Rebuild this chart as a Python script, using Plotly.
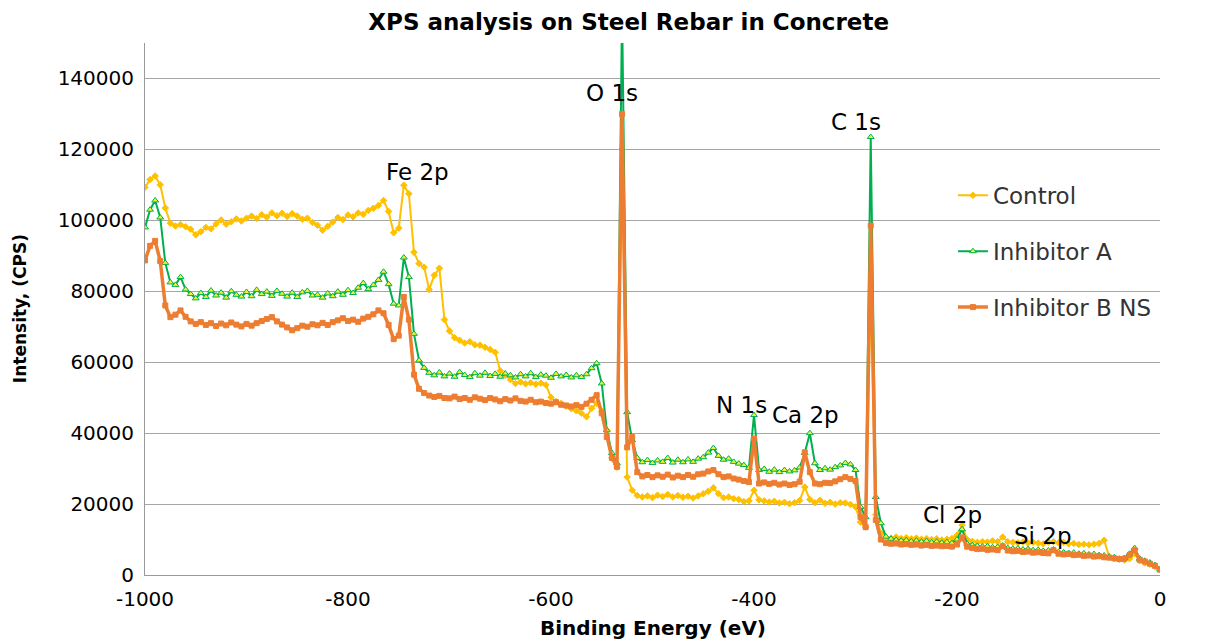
"""
XPS survey spectra of steel rebar in concrete: control vs. two inhibitors.

Values are read off the original chart on a 5 eV grid and kept in kCPS.
"""

import plotly.graph_objects as go

# --- data -------------------------------------------------------------------
binding_energy = list(range(-1000, 1, 5))  # eV, 5 eV steps

# intensities in kCPS, one row per 50 eV
control_kcps = [
    109.3, 111.5, 112.5, 110.0, 103.5, 99.2, 98.4, 98.8, 98.2, 97.5,
    95.9, 96.8, 98.0, 97.6, 99.0, 100.1, 98.9, 99.6, 100.4, 99.8,
    100.6, 101.2, 100.5, 101.6, 100.9, 102.1, 101.3, 102.0, 101.1, 101.9,
    101.2, 100.3, 100.6, 99.4, 98.6, 97.2, 98.3, 99.5, 100.8, 100.2,
    101.5, 101.0, 102.1, 101.7, 102.8, 103.4, 104.2, 105.6, 102.5, 96.5,
    97.8, 109.9, 107.5, 91.0, 87.8, 86.8, 80.5, 84.5, 86.5, 72.0,
    68.8, 66.9, 66.2, 65.4, 65.8, 64.9, 64.8, 64.2, 63.6, 62.8,
    57.6, 56.3, 55.1, 54.0, 54.4, 53.9, 54.2, 53.8, 54.1, 53.6,
    50.1, 48.9, 48.4, 47.6, 46.9, 46.3, 45.6, 44.6, 47.0, 48.4,
    46.2, 40.8, 33.0, 30.4, 120.0, 27.6, 23.9, 22.4, 22.0, 22.3,
    21.8, 22.5, 22.1, 22.7, 22.0, 22.4, 21.9, 22.2, 21.7, 22.3,
    22.9, 23.6, 24.6, 22.9, 21.8, 22.0, 21.5, 21.3, 20.7, 20.9,
    23.9, 21.2, 20.9, 20.6, 20.8, 20.3, 20.5, 20.1, 20.4, 21.0,
    24.8, 21.3, 20.4, 21.1, 20.2, 20.5, 20.0, 20.4, 20.3, 19.9,
    19.2, 14.9, 13.5, 80.0, 17.0, 11.8, 10.6, 10.4, 10.7, 10.3,
    10.5, 10.2, 10.4, 10.1, 10.3, 10.0, 10.2, 9.9, 10.1, 10.3,
    11.2, 14.1, 10.0, 9.5, 9.2, 9.4, 9.3, 9.6, 9.4, 10.7,
    9.4, 9.2, 9.1, 9.3, 9.0, 9.2, 9.0, 8.8, 9.3, 9.4,
    9.1, 9.2, 8.8, 8.9, 8.6, 8.7, 8.5, 8.7, 8.9, 9.8,
    5.0, 4.6, 4.4, 4.2, 4.6, 6.0, 4.0, 3.4, 3.0, 2.4,
    1.6,
]

inhibitor_a_kcps = [
    98.0, 103.0, 105.6, 100.8, 88.0, 82.5, 81.8, 84.0, 80.5, 79.2,
    78.0, 79.5, 78.4, 80.2, 78.8, 79.6, 78.2, 80.0, 79.0, 78.5,
    79.8, 78.6, 80.4, 79.2, 79.9, 78.7, 80.1, 79.3, 78.5, 79.6,
    78.4, 79.7, 80.1, 78.8, 79.0, 78.2, 79.4, 78.6, 79.9, 79.0,
    80.3, 79.5, 81.0, 82.3, 80.6, 81.8, 83.2, 85.5, 82.0, 76.5,
    76.0, 89.5, 84.0, 68.0, 60.5, 58.4, 57.0, 56.3, 57.1, 56.0,
    56.8, 55.9, 57.2, 56.4, 55.8, 56.9, 56.2, 57.0, 56.1, 56.7,
    55.9, 56.8, 56.3, 55.7, 56.6, 56.0, 56.9, 55.8, 56.5, 56.2,
    55.6, 56.7, 56.0, 56.4, 55.7, 56.3, 55.8, 56.6, 58.3, 59.7,
    54.0, 40.8, 34.4, 31.5, 160.0, 45.9, 38.0, 33.0, 31.8, 32.4,
    31.6, 32.3, 31.9, 33.0, 31.7, 32.5, 31.8, 32.6, 31.9, 32.8,
    33.2, 34.5, 35.8, 33.6, 32.5, 32.8, 31.9, 31.4, 31.0, 30.2,
    45.1, 29.6, 29.9, 29.1, 29.7, 29.0, 29.6, 29.2, 29.5, 30.3,
    34.4, 40.0, 31.5, 29.6, 30.1, 29.7, 30.4, 30.9, 31.6, 31.2,
    29.6, 19.2, 16.3, 123.5, 22.0, 14.6, 10.8, 10.2, 9.9, 9.7,
    9.8, 9.5, 9.7, 9.4, 9.6, 9.2, 9.4, 9.1, 9.3, 9.0,
    10.0, 12.9, 8.8, 8.4, 8.2, 8.0, 8.1, 7.8, 7.9, 8.3,
    7.6, 7.4, 7.5, 7.2, 7.3, 7.0, 7.1, 6.8, 6.9, 7.2,
    6.5, 6.4, 6.2, 6.3, 6.0, 6.1, 5.8, 5.9, 5.6, 5.5,
    5.2, 5.0, 4.6, 4.8, 6.0, 7.6, 4.6, 4.0, 3.5, 2.8,
    1.6,
]

inhibitor_b_kcps = [
    88.7, 92.8, 94.2, 88.5, 76.0, 72.7, 73.4, 74.6, 72.8, 71.5,
    70.8, 71.3, 70.5, 71.0, 70.2, 70.9, 70.4, 71.2, 70.6, 70.1,
    70.8, 70.3, 71.0, 71.6, 72.2, 72.7, 71.5, 70.6, 69.8, 69.0,
    69.6, 70.3, 70.0, 70.7, 70.4, 71.1, 70.5, 71.3, 71.8, 72.4,
    71.6, 72.0, 71.4, 72.3, 72.8, 73.5, 74.6, 73.8, 70.5, 66.5,
    67.5, 78.4, 72.0, 56.5, 52.5, 51.3, 50.6, 50.2, 50.5, 49.9,
    49.8, 50.3, 49.6, 49.9, 49.4, 50.1, 49.7, 49.3, 49.9, 49.5,
    49.0, 49.6, 49.2, 49.8, 49.1, 48.9, 49.4, 48.7, 48.9, 48.5,
    48.3, 48.7, 48.0, 47.8, 47.5, 47.9, 47.4, 48.3, 49.4, 50.7,
    45.6, 38.9, 33.0, 30.5, 130.0, 36.0, 38.9, 29.0, 27.8, 28.2,
    27.6, 28.1, 27.7, 28.3, 27.5, 28.0, 27.6, 28.2, 27.7, 28.4,
    28.6, 29.2, 29.6, 28.4, 27.6, 27.8, 27.2, 26.9, 26.5, 26.2,
    38.5, 25.8, 26.1, 25.7, 26.0, 25.5, 25.8, 25.4, 25.6, 26.3,
    34.6, 29.0, 25.8, 25.6, 26.0, 25.9, 26.4, 27.0, 27.6, 27.1,
    26.5, 16.3, 13.5, 98.5, 15.5, 10.0, 9.0, 8.8, 8.9, 8.6,
    8.7, 8.5, 8.6, 8.3, 8.5, 8.2, 8.3, 8.1, 8.2, 8.0,
    8.6, 10.6, 8.0, 7.6, 7.3, 7.4, 7.1, 7.2, 7.0, 8.1,
    6.9, 6.7, 6.8, 6.5, 6.6, 6.3, 6.4, 6.2, 6.1, 7.0,
    6.0, 5.8, 5.9, 5.6, 5.7, 5.4, 5.5, 5.2, 5.3, 5.0,
    4.9, 4.7, 4.5, 4.6, 5.6, 7.0, 4.3, 3.8, 3.2, 2.6,
    1.5,
]

# peak labels and where they sit (eV, CPS)
peak_labels = ["O 1s", "Fe 2p", "C 1s", "N 1s", "Ca 2p", "Cl 2p", "Si 2p"]
peak_label_x = [-540, -732, -300, -412, -349, -204, -115]
peak_label_y = [135800, 113500, 127600, 47900, 45000, 16900, 11000]

x_ticks = [-1000, -800, -600, -400, -200, 0]
x_tick_labels = ["-1000", "-800", "-600", "-400", "-200", "0"]
y_ticks = [0, 20000, 40000, 60000, 80000, 100000, 120000, 140000]
y_tick_labels = ["0", "20000", "40000", "60000", "80000", "100000", "120000", "140000"]

LABEL_FONT = "DejaVu Sans"


def to_cps(values):
    """kCPS -> CPS."""
    return [v * 1000 for v in values]


series = [
    # name, values, colour, line width, marker symbol, marker size, marker fill
    ("Control", control_kcps, "#FFC000", 2, "diamond", 5, "#FFC000"),
    ("Inhibitor A", inhibitor_a_kcps, "#00B050", 2, "triangle-up", 6, "#F2F230"),
    ("Inhibitor B NS", inhibitor_b_kcps, "#ED7D31", 3.5, "square", 5, "#ED7D31"),
]

fig = go.Figure()
for name, values, colour, width, symbol, size, fill in series:
    fig.add_trace(go.Scatter(
        x=binding_energy, y=to_cps(values), name=name, legendgroup=name,
        mode="lines+markers",
        line=dict(color=colour, width=width),
        marker=dict(symbol=symbol, size=size, color=fill,
                    line=dict(color=colour, width=1)),
    ))

for text, px_, py_ in zip(peak_labels, peak_label_x, peak_label_y):
    fig.add_annotation(x=px_, y=py_, text=text, showarrow=False,
                       font=dict(family=LABEL_FONT, size=23, color="#000000"))

# axis titles placed by hand to match the original
fig.add_annotation(x=0.5, y=-0.1, xref="paper", yref="paper",
                   xanchor="center", yanchor="middle",
                   text="<b>Binding Energy (eV)</b>", showarrow=False,
                   font=dict(family=LABEL_FONT, size=20, color="#000000"))
fig.add_annotation(x=-0.123, y=0.5, xref="paper", yref="paper", textangle=-90,
                   xanchor="center", yanchor="middle",
                   text="<b>Intensity, (CPS)</b>", showarrow=False,
                   font=dict(family=LABEL_FONT, size=17, color="#000000"))

# page body adds an 8px margin, so the figure is 8px smaller than the window
fig.update_layout(
    width=1217, height=633,
    margin=dict(l=137, r=65, t=35, b=66),
    paper_bgcolor="white", plot_bgcolor="white",
    title=dict(text="<b>XPS analysis on Steel Rebar in Concrete</b>",
               x=0.510, xanchor="center", y=0.978, yanchor="middle",
               font=dict(family=LABEL_FONT, size=23, color="#000000")),
    legend=dict(x=0.796, y=0.754, xanchor="left", yanchor="top",
                bgcolor="rgba(0,0,0,0)", tracegroupgap=23,
                font=dict(family=LABEL_FONT, size=23, color="#333333")),
    showlegend=True,
)
fig.update_xaxes(
    range=[-1000, 0], tickvals=x_ticks, ticktext=x_tick_labels,
    showgrid=False, zeroline=False, showline=True, linecolor="#9A9A9A",
    ticks="", ticklabelstandoff=6,
    tickfont=dict(family=LABEL_FONT, size=20, color="#000000"),
)
fig.update_yaxes(
    range=[0, 150000], tickvals=y_ticks, ticktext=y_tick_labels,
    showgrid=True, gridcolor="#A6A6A6", gridwidth=1,
    zeroline=False, showline=True, linecolor="#9A9A9A",
    ticks="", ticklabelstandoff=6,
    tickfont=dict(family=LABEL_FONT, size=20, color="#000000"),
)

fig.write_html("out.html")
